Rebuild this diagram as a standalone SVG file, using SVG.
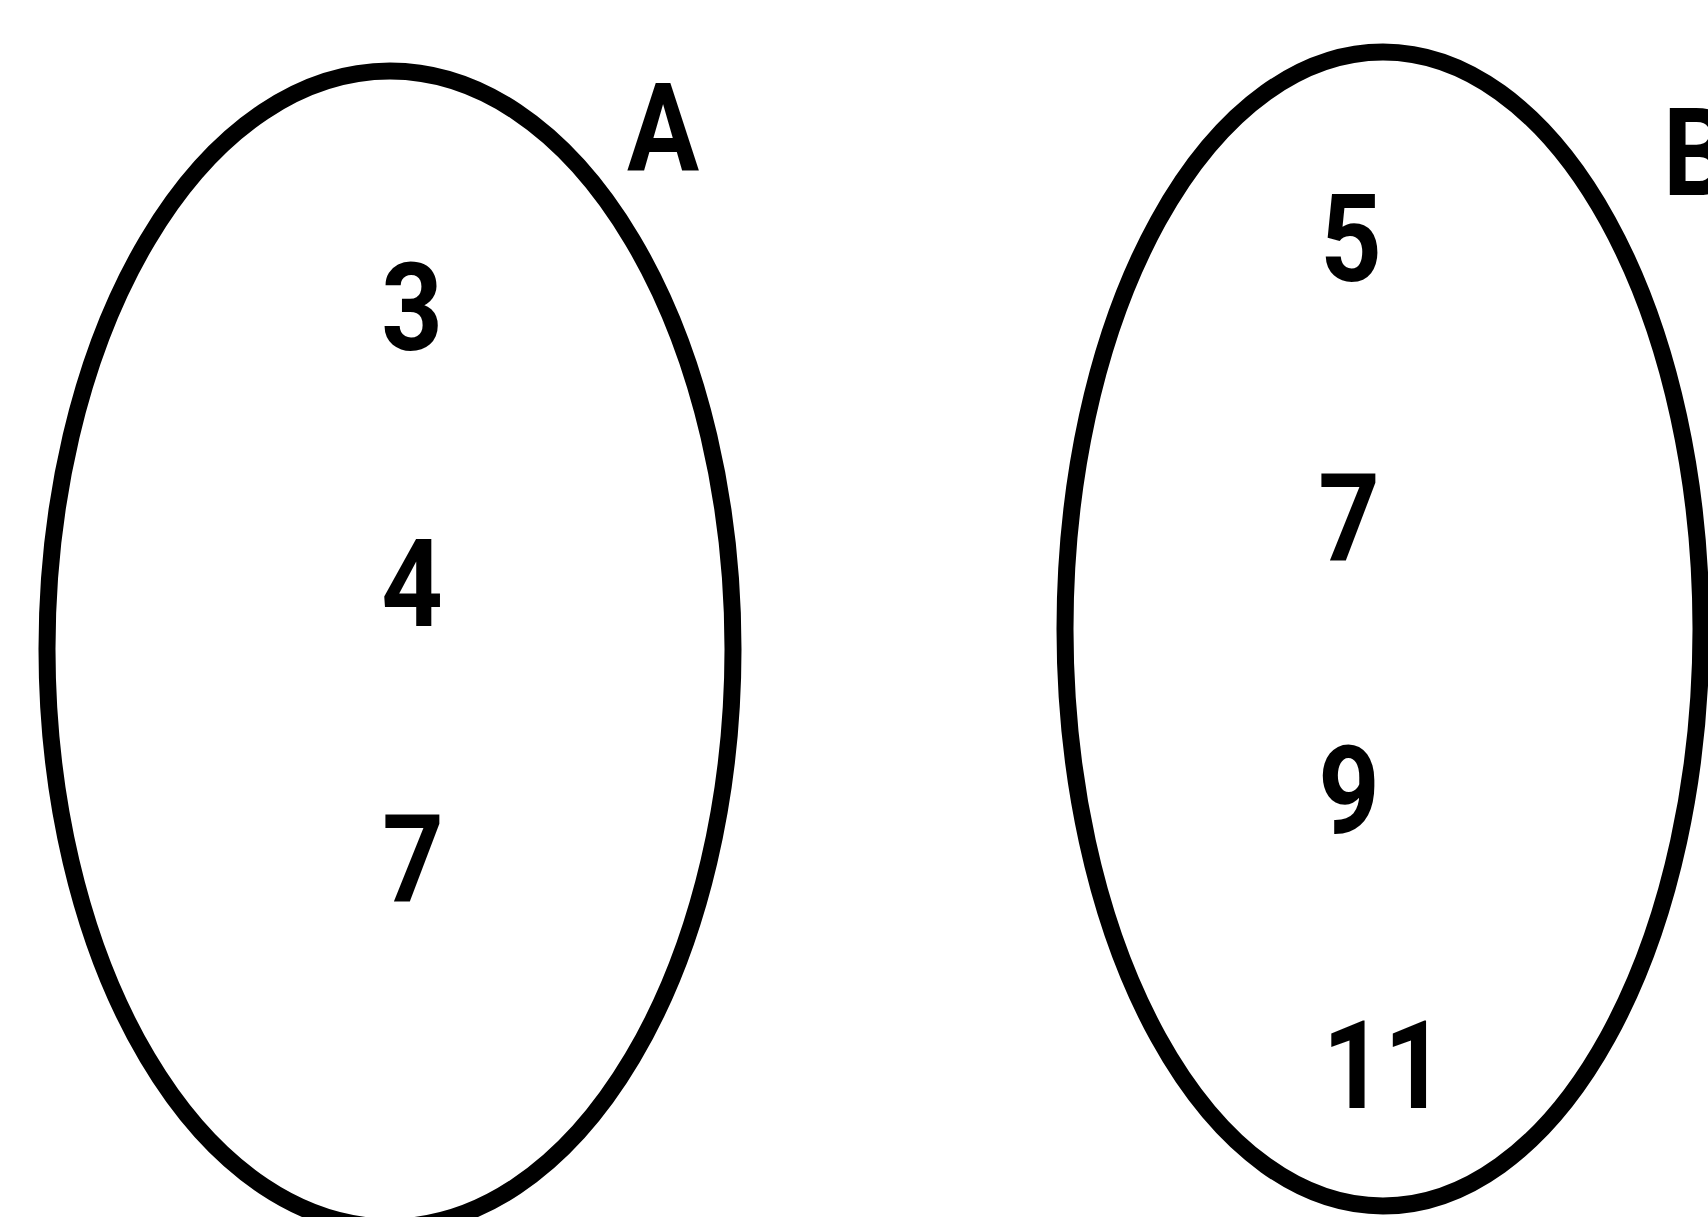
<svg xmlns="http://www.w3.org/2000/svg" width="1708" height="1217" viewBox="0 0 1708 1217">
<style>
.set{fill:none;stroke:#000;stroke-width:17}
.t{font-family:Roboto,"Liberation Sans",Arial,sans-serif;font-weight:700;font-size:122px;fill:#000;text-anchor:middle}
.l{font-family:Roboto,"Liberation Sans",Arial,sans-serif;font-weight:700;font-size:122px;fill:#000}
</style>
<rect width="1708" height="1217" fill="#fff"/>
<g id="setA">
<ellipse class="set" cx="390" cy="649" rx="343" ry="578"/>
<text class="l" transform="translate(627,170) scale(0.88,1)">A</text>
<text class="t" transform="translate(412,350) scale(0.88,1)">3</text>
<text class="t" transform="translate(412,626) scale(0.88,1)">4</text>
<text class="t" transform="translate(413,902) scale(0.88,1)">7</text>
</g>
<g id="setB">
<ellipse class="set" cx="1383" cy="629" rx="318" ry="577"/>
<text class="l" transform="translate(1663,195) scale(0.88,1)">B</text>
<text class="t" transform="translate(1351,281) scale(0.88,1)">5</text>
<text class="t" transform="translate(1349,561) scale(0.88,1)">7</text>
<text class="t" transform="translate(1349,833) scale(0.88,1)">9</text>
<text class="t" transform="translate(1384,1108) scale(0.88,1)">11</text>
</g>
<g id="connectors"></g>
</svg>
